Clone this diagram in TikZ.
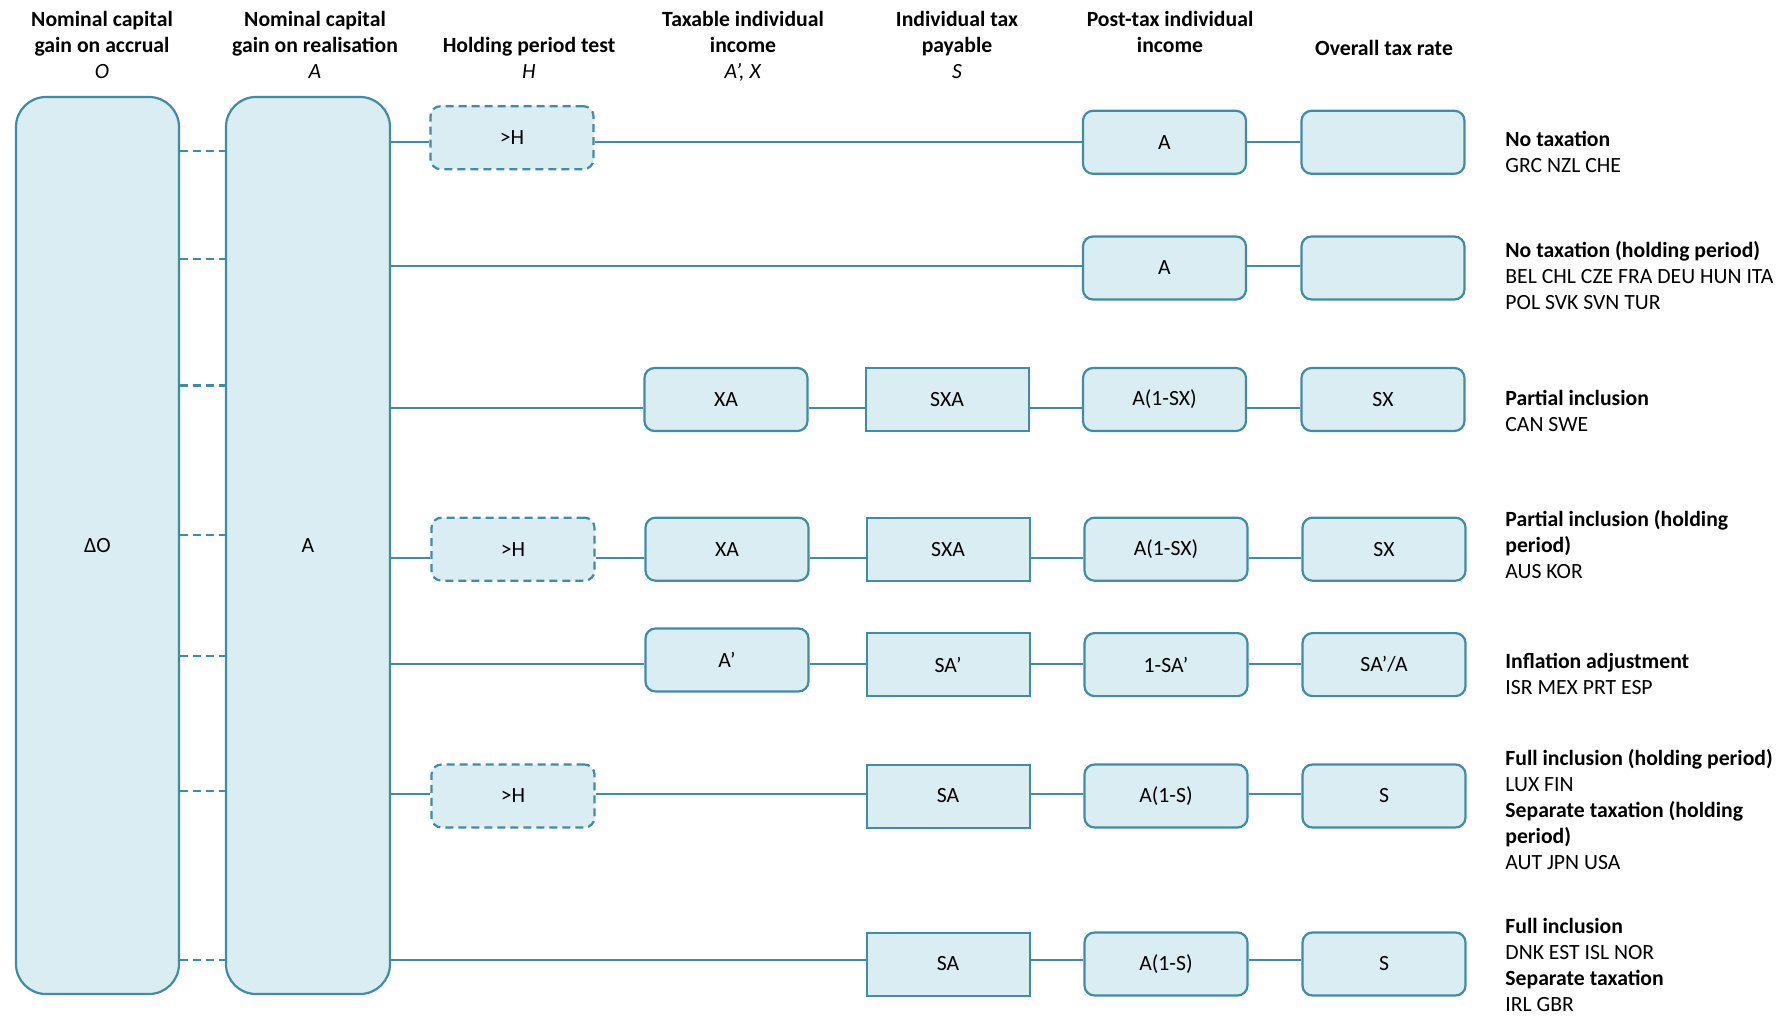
\documentclass[tikz,border=0pt]{standalone}
\usepackage{fontspec}
\setmainfont{Carlito}
\definecolor{edge}{HTML}{408CA5}
\definecolor{boxfill}{HTML}{DAEDF3}

\begin{document}
\begin{tikzpicture}[x=0.5pt,y=-0.5pt,
  every node/.style={inner sep=0pt, text=black},
  base/.style={draw=edge, fill=boxfill, line width=1.1pt,
    minimum width=81.5pt, minimum height=31.5pt,
    font=\fontsize{10.85}{13}\selectfont},
  stage/.style={base, rounded corners=5pt},
  flatstage/.style={base, line width=1pt},
  testbox/.style={base, rounded corners=5pt, dash pattern=on 4pt off 2.5pt},
  tallbox/.style={base, rounded corners=15pt, minimum height=448.5pt},
  link/.style={draw=edge, line width=1.1pt},
  dlink/.style={draw=edge, line width=1.1pt, dash pattern=on 4pt off 2.5pt},
  colhead/.style={anchor=north, align=center,
    font=\fontsize{10.85}{13}\selectfont, execute at begin node=\strut},
  rowtag/.style={anchor=north west, align=left,
    font=\fontsize{10.85}{13}\selectfont, execute at begin node=\strut}]

\useasboundingbox (0,0) rectangle (1792,1016);

% column headings
\node[colhead] (h1) at (102,10.5)  {\textbf{Nominal capital}\\\textbf{gain on accrual}\\\textit{O}};
\node[colhead] (h2) at (315,10.5)  {\textbf{Nominal capital}\\\textbf{gain on realisation}\\\textit{A}};
\node[colhead] (h3) at (529,36.5) {\textbf{Holding period test}\\\textit{H}};
\node[colhead] (h4) at (743,10.5)  {\textbf{Taxable individual}\\\textbf{income}\\\textit{A’, X}};
\node[colhead] (h5) at (957,10.5)  {\textbf{Individual tax}\\\textbf{payable}\\\textit{S}};
\node[colhead] (h6) at (1170,10.5) {\textbf{Post-tax individual}\\\textbf{income}};
\node[colhead] (h7) at (1384,36.5) {\textbf{Overall tax rate}};

% tall boxes
\node[tallbox] (accrual) at (97.5,545.5) {ΔO};
\node[tallbox, minimum width=82pt] (real) at (308,545.5) {A};

% row levels of the connectors
\coordinate (r1) at (0,141.7);
\coordinate (r2) at (0,266.3);
\coordinate (r3) at (0,408);
\coordinate (r4) at (0,557.7);
\coordinate (r5) at (0,664);
\coordinate (r6) at (0,794.3);
\coordinate (r7) at (0,960);

% dashed links between the tall boxes
\foreach \yy [count=\i] in {151,259,385.5,535,656,791,960}{
  \coordinate (d\i) at (0,\yy);
  \draw[dlink] (accrual.east |- d\i) -- (real.west |- d\i);
}

% row 1: no taxation
\node[testbox] (t1) at (512,137.7) {>H};
\node[stage] (p1) at (1164.5,142.3) {A};
\node[stage] (o1) at (1383,142.3) {};
\draw[link] (real.east |- r1) -- (t1.west |- r1);
\draw[link] (t1.east |- r1) -- (p1.west |- r1);
\draw[link] (p1.east |- r1) -- (o1.west |- r1);

% row 2: no taxation (holding period)
\node[stage] (p2) at (1164.5,268) {A};
\node[stage] (o2) at (1383,268) {};
\draw[link] (real.east |- r2) -- (p2.west |- r2);
\draw[link] (p2.east |- r2) -- (o2.west |- r2);

% row 3: partial inclusion
\node[stage] (x3) at (726,399.5) {XA};
\node[flatstage] (s3) at (947,399.5) {SXA};
\node[stage] (p3) at (1164.5,399.5) {A(1-SX)};
\node[stage] (o3) at (1383,399.5) {SX};
\draw[link] (real.east |- r3) -- (x3.west |- r3);
\draw[link] (x3.east |- r3) -- (s3.west |- r3);
\draw[link] (s3.east |- r3) -- (p3.west |- r3);
\draw[link] (p3.east |- r3) -- (o3.west |- r3);

% row 4: partial inclusion (holding period)
\node[testbox] (t4) at (513,549.2) {>H};
\node[stage] (x4) at (727,549.2) {XA};
\node[flatstage] (s4) at (948,549.2) {SXA};
\node[stage] (p4) at (1166,549.2) {A(1-SX)};
\node[stage] (o4) at (1384,549.2) {SX};
\draw[link] (real.east |- r4) -- (t4.west |- r4);
\draw[link] (t4.east |- r4) -- (x4.west |- r4);
\draw[link] (x4.east |- r4) -- (s4.west |- r4);
\draw[link] (s4.east |- r4) -- (p4.west |- r4);
\draw[link] (p4.east |- r4) -- (o4.west |- r4);

% row 5: inflation adjustment
\node[stage] (x5) at (727,660) {A’};
\node[flatstage] (s5) at (948,664.6) {SA’};
\node[stage] (p5) at (1166,664.6) {1-SA’};
\node[stage] (o5) at (1384,664.6) {SA’/A};
\draw[link] (real.east |- r5) -- (x5.west |- r5);
\draw[link] (x5.east |- r5) -- (s5.west |- r5);
\draw[link] (s5.east |- r5) -- (p5.west |- r5);
\draw[link] (p5.east |- r5) -- (o5.west |- r5);

% row 6: full inclusion / separate taxation (holding period)
\node[testbox] (t6) at (513,796) {>H};
\node[flatstage] (s6) at (948,796) {SA};
\node[stage] (p6) at (1166,796) {A(1-S)};
\node[stage] (o6) at (1384,796) {S};
\draw[link] (real.east |- r6) -- (t6.west |- r6);
\draw[link] (t6.east |- r6) -- (s6.west |- r6);
\draw[link] (s6.east |- r6) -- (p6.west |- r6);
\draw[link] (p6.east |- r6) -- (o6.west |- r6);

% row 7: full inclusion / separate taxation
\node[flatstage] (s7) at (948,964) {SA};
\node[stage] (p7) at (1166,964) {A(1-S)};
\node[stage] (o7) at (1384,964) {S};
\draw[link] (real.east |- r7) -- (s7.west |- r7);
\draw[link] (s7.east |- r7) -- (p7.west |- r7);
\draw[link] (p7.east |- r7) -- (o7.west |- r7);

% regime descriptions
\node[rowtag] (l1) at (1505,130.6) {\textbf{No taxation}\\GRC NZL CHE};
\node[rowtag] (l2) at (1505,240.6) {\textbf{No taxation (holding period)}\\BEL CHL CZE FRA DEU HUN ITA\\POL SVK SVN TUR};
\node[rowtag] (l3) at (1505,389.6) {\textbf{Partial inclusion}\\CAN SWE};
\node[rowtag] (l4) at (1505,510.1) {\textbf{Partial inclusion (holding}\\\textbf{period)}\\AUS KOR};
\node[rowtag] (l5) at (1505,652.6) {\textbf{Inflation adjustment}\\ISR MEX PRT ESP};
\node[rowtag] (l6) at (1505,748.6) {\textbf{Full inclusion (holding period)}\\LUX FIN\\\textbf{Separate taxation (holding}\\\textbf{period)}\\AUT JPN USA};
\node[rowtag] (l7) at (1505,918) {\textbf{Full inclusion}\\DNK EST ISL NOR\\\textbf{Separate taxation}\\IRL GBR};

\end{tikzpicture}
\end{document}
